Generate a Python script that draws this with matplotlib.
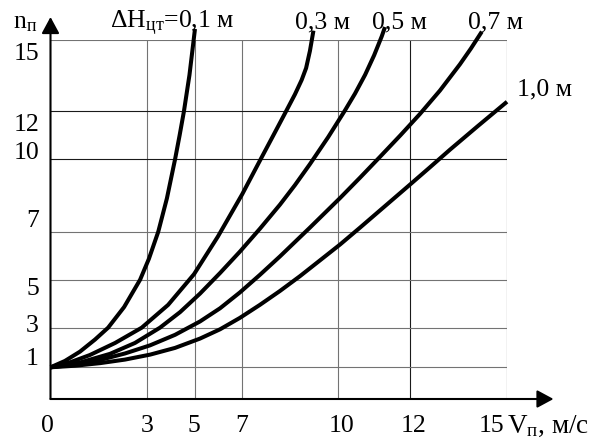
import numpy as np
import matplotlib
matplotlib.use("Agg")
import matplotlib.pyplot as plt

plt.rcParams['font.family'] = ['Liberation Serif', 'DejaVu Serif']
plt.rcParams['mathtext.fontset'] = 'custom'
plt.rcParams['mathtext.rm'] = 'Liberation Serif'
plt.rcParams['mathtext.it'] = 'Liberation Serif:italic'
plt.rcParams['mathtext.bf'] = 'Liberation Serif:bold'

# ---------------- data ----------------
x_ticks = [0, 3, 5, 7, 10, 12, 15]
x_tick_labels = ['0', '3', '5', '7', '10', '12', '15']
y_ticks = [1, 3, 5, 7, 10, 12, 15]
y_tick_labels = ['1', '3', '5', '7', '10', '12', '15']

v_01 = [0, 0.45, 0.92, 1.39, 1.80, 2.30, 2.80, 3.10, 3.49, 3.85, 4.19, 4.38, 4.56, 4.79, 5.02]
n_01 = [1, 1.32, 1.79, 2.40, 3.00, 3.86, 5.00, 5.87, 7.00, 8.38, 10.0, 11.0, 12.0, 13.52, 15.45]

v_03 = [0, 0.61, 1.23, 2.02, 2.85, 3.90, 4.98, 5.98, 7.00, 7.55, 7.97, 8.34, 8.65, 8.86, 9.00, 9.12, 9.23]
n_03 = [1, 1.25, 1.62, 2.23, 3.00, 3.95, 5.23, 6.80, 8.56, 9.94, 10.99, 11.92, 12.71, 13.31, 13.81, 14.53, 15.38]

v_05 = [0, 0.92, 1.86, 2.64, 3.56, 4.40, 5.23, 6.07, 6.90, 7.55, 8.18, 8.65, 9.12, 9.69,
        10.19, 10.47, 10.75, 11.00, 11.21, 11.30]
n_05 = [1, 1.24, 1.68, 2.23, 3.00, 3.65, 4.42, 5.28, 6.17, 7.12, 8.12, 8.93, 9.80, 10.92,
        12.03, 12.74, 13.53, 14.35, 15.14, 15.53]

v_07 = [0, 0.77, 1.55, 2.33, 3.15, 4.19, 5.23, 6.07, 6.90, 7.55, 8.18, 9.12, 10.06, 10.61,
        11.16, 11.72, 12.30, 12.92, 13.54, 13.88, 14.22]
n_07 = [1, 1.14, 1.37, 1.70, 2.11, 2.64, 3.26, 3.81, 4.47, 5.20, 5.97, 7.17, 8.40, 9.24,
        10.10, 10.99, 11.89, 12.87, 13.97, 14.63, 15.34]

v_10 = [0, 0.77, 1.55, 2.33, 3.15, 4.19, 5.23, 6.07, 6.90, 7.55, 8.18, 8.81, 9.43, 10.06,
        10.61, 11.30, 11.99, 12.61, 13.23, 14.10, 15.00]
n_10 = [1, 1.08, 1.21, 1.39, 1.64, 1.98, 2.45, 2.92, 3.41, 3.95, 4.53, 5.15, 5.80, 6.47,
        7.17, 8.06, 8.95, 9.67, 10.40, 11.39, 12.40]

curve_labels = [r'ΔH$_{\mathrm{цт}}$=0,1 м', '0,3 м', '0,5 м', '0,7 м', '1,0 м']
x_axis_label = r'V$_{\mathrm{п}}$, м/с'
y_axis_label = r'n$_{\mathrm{п}}$'

# ---------------- layout (pixels of a 606x439 canvas) ----------------
W, H = 606, 439
x_grid_px = [50.5, 146.5, 194.5, 242.3, 338.0, 410.3, 507.0]      # where x_ticks sit
y_grid_vals = [0, 1, 3, 5, 7, 10, 12, 15]
y_grid_px = [400.0, 368.3, 328.7, 280.7, 232.7, 160.3, 112.3, 40.7]


def piecewise(vals, pos):
    vals = np.asarray(vals, float)
    pos = np.asarray(pos, float)
    s0 = (pos[1] - pos[0]) / (vals[1] - vals[0])
    s1 = (pos[-1] - pos[-2]) / (vals[-1] - vals[-2])

    def fwd(v):
        v = np.asarray(v, float)
        out = np.interp(v, vals, pos)
        out = np.where(v < vals[0], pos[0] + (v - vals[0]) * s0, out)
        out = np.where(v > vals[-1], pos[-1] + (v - vals[-1]) * s1, out)
        return out

    def inv(p):
        p = np.asarray(p, float)
        out = np.interp(p, pos, vals)
        out = np.where(p < pos[0], vals[0] + (p - pos[0]) / s0, out)
        out = np.where(p > pos[-1], vals[-1] + (p - pos[-1]) / s1, out)
        return out
    return fwd, inv


fig = plt.figure(figsize=(W / 100, H / 100), dpi=100)
left = x_grid_px[0] / W
right = x_grid_px[-1] / W
bottom = 1 - y_grid_px[0] / H
top = 1 - y_grid_px[-1] / H
ax = fig.add_axes([left, bottom, right - left, top - bottom])

ax.set_xscale('function', functions=piecewise(x_ticks, x_grid_px))
ax.set_yscale('function', functions=piecewise(y_grid_vals, [H - p for p in y_grid_px]))
ax.set_xlim(0, 15)
ax.set_ylim(0, 15)

# grid
x_grid_col = ['none', '0.45', '0.45', '0.45', '0.45', '0.1', '0.1']
y_grid_col = ['0.45', '0.45', '0.45', '0.45', '0.1', '0.1', '0.45']
for xv, c in zip(x_ticks, x_grid_col):
    if xv > 0:
        ax.axvline(xv, color=c, lw=0.8, zorder=1)
for yv, c in zip(y_ticks, y_grid_col):
    ax.axhline(yv, color=c, lw=0.8, zorder=1)

ax.set_xticks([])
ax.set_yticks([])
for s in ax.spines.values():
    s.set_visible(False)

# curves
for v, n in [(v_01, n_01), (v_03, n_03), (v_05, n_05), (v_07, n_07), (v_10, n_10)]:
    ax.plot(v, n, color='black', lw=2.9, solid_joinstyle='round',
            solid_capstyle='butt', clip_on=False, zorder=3)

# axes with arrows
arr = dict(arrowstyle='-|>,head_length=0.5,head_width=0.27', color='black',
           lw=1.5, shrinkA=0, shrinkB=0, mutation_scale=20)
ax.annotate('', xy=(0, 1 + (y_grid_px[-1] - 18) / (y_grid_px[0] - y_grid_px[-1])),
            xycoords='axes fraction', xytext=(0, 0), textcoords='axes fraction',
            arrowprops=arr, annotation_clip=False)
ax.annotate('', xy=(1 + (553.5 - x_grid_px[-1]) / (x_grid_px[-1] - x_grid_px[0]), 0),
            xycoords='axes fraction', xytext=(0, 0), textcoords='axes fraction',
            arrowprops=arr, annotation_clip=False)

fs = 18.5
# tick labels (offsets in pixels from their gridline)
x_lab_dx = [-3, 1, -0.5, -0.6, 3.7, 3, -16]
for xv, lab, dx in zip(x_ticks, x_tick_labels, x_lab_dx):
    ax.annotate(lab, xy=(xv, 0), xycoords=('data', 'axes fraction'),
                xytext=(dx, -26), textcoords='offset pixels',
                ha='center', va='center', fontsize=fs, annotation_clip=False)
y_lab_dy = [9.3, 2.7, -8.3, 11.7, 7.3, -12.7, -13.3]
for yv, lab, dy in zip(y_ticks, y_tick_labels, y_lab_dy):
    ax.annotate(lab, xy=(0, yv), xycoords=('axes fraction', 'data'),
                xytext=(-11.5, dy), textcoords='offset pixels',
                ha='right', va='center', fontsize=fs, annotation_clip=False)


def ftext(x, y, s, size=fs, **kw):
    fig.text(x / W, 1 - y / H, s, fontsize=size, **kw)


ftext(507, 426, x_axis_label, size=19.5, ha='left', va='center')
ftext(13, 28.5, y_axis_label, ha='left', va='baseline')

label_px = [(110, 28.5), (295, 28.5), (372, 28.5), (468, 28.5), (517, 95)]
for (lx, ly), s in zip(label_px, curve_labels):
    ftext(lx, ly, s, ha='left', va='baseline')

fig.savefig('out.png', dpi=100)
